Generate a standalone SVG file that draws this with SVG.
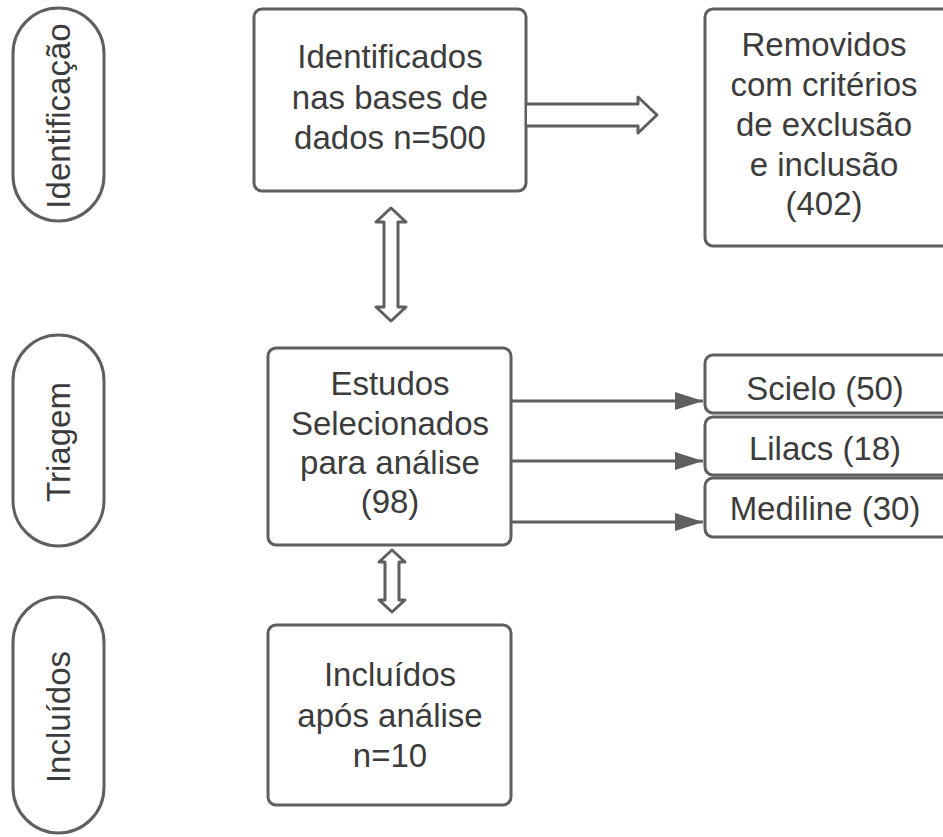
<svg xmlns="http://www.w3.org/2000/svg" width="943" height="837" viewBox="0 0 943 837">
<style>
.box{fill:#fff;stroke:#5f5f5f;stroke-width:3}
.t{font-family:"Liberation Sans",Arial,sans-serif;font-size:33px;fill:#3c3c3c;text-anchor:middle}
.ln{stroke:#5f5f5f;stroke-width:3;fill:none}
.blk{fill:#fff;stroke:#5f5f5f;stroke-width:3;stroke-linejoin:round}
</style>
<defs>
<marker id="ah2" viewBox="0 0 28 18" markerWidth="28" markerHeight="18" refX="28" refY="9" orient="auto" markerUnits="userSpaceOnUse">
<path d="M0,0 L28,9 L0,18 Z" fill="#5f5f5f"/>
</marker>
</defs>
<rect width="943" height="837" fill="#fff"/>
<g id="lane-identificacao">
<rect class="box" x="13" y="8" width="91" height="213" rx="45.5"/>
<text class="t" transform="translate(70,116) rotate(-90)">Identificação</text>
</g>
<g id="lane-triagem">
<rect class="box" x="13" y="335" width="91" height="211" rx="45.5"/>
<text class="t" transform="translate(70,442) rotate(-90)">Triagem</text>
</g>
<g id="lane-incluidos">
<rect class="box" x="13" y="597" width="91" height="236" rx="45.5"/>
<text class="t" transform="translate(70,717) rotate(-90)">Incluídos</text>
</g>
<g id="n-identificados">
<rect class="box" x="254" y="9" width="272" height="182" rx="8"/>
<text class="t" x="390" y="68">Identificados</text>
<text class="t" x="390" y="109">nas bases de</text>
<text class="t" x="390" y="149">dados n=500</text>
</g>
<g id="n-removidos">
<rect class="box" x="705" y="9" width="250" height="237" rx="8"/>
<text class="t" x="824" y="56">Removidos</text>
<text class="t" x="824" y="96">com critérios</text>
<text class="t" x="824" y="136">de exclusão</text>
<text class="t" x="824" y="176">e inclusão</text>
<text class="t" x="824" y="215">(402)</text>
</g>
<g id="n-estudos">
<rect class="box" x="268" y="348" width="243" height="197" rx="8"/>
<text class="t" x="390" y="395">Estudos</text>
<text class="t" x="390" y="435">Selecionados</text>
<text class="t" x="390" y="474">para análise</text>
<text class="t" x="390" y="513">(98)</text>
</g>
<g id="n-scielo">
<rect class="box" x="705" y="355" width="250" height="58" rx="8"/>
<text class="t" x="825" y="400">Scielo (50)</text>
</g>
<g id="n-lilacs">
<rect class="box" x="705" y="417" width="250" height="58" rx="8"/>
<text class="t" x="825" y="460">Lilacs (18)</text>
</g>
<g id="n-mediline">
<rect class="box" x="705" y="478" width="250" height="59" rx="8"/>
<text class="t" x="825" y="520">Mediline (30)</text>
</g>
<g id="n-incluidos">
<rect class="box" x="268" y="625" width="243" height="180" rx="8"/>
<text class="t" x="390" y="686">Incluídos</text>
<text class="t" x="390" y="727">após análise</text>
<text class="t" x="390" y="767">n=10</text>
</g>
<g id="connectors">
<path class="blk" d="M527,104 L638,104 L638,97 L657,115 L638,133 L638,126 L527,126"/>
<path class="blk" d="M391,208 L406,222 L398,222 L398,307 L406,307 L391,321 L376,307 L384,307 L384,222 L376,222 Z"/>
<path class="blk" d="M392,550 L405,562 L399,562 L399,600 L405,600 L392,612 L379,600 L385,600 L385,562 L379,562 Z"/>
<line class="ln" x1="511" y1="401" x2="703" y2="401" marker-end="url(#ah2)"/>
<line class="ln" x1="511" y1="461" x2="703" y2="461" marker-end="url(#ah2)"/>
<line class="ln" x1="511" y1="522" x2="703" y2="522" marker-end="url(#ah2)"/>
</g>
</svg>
